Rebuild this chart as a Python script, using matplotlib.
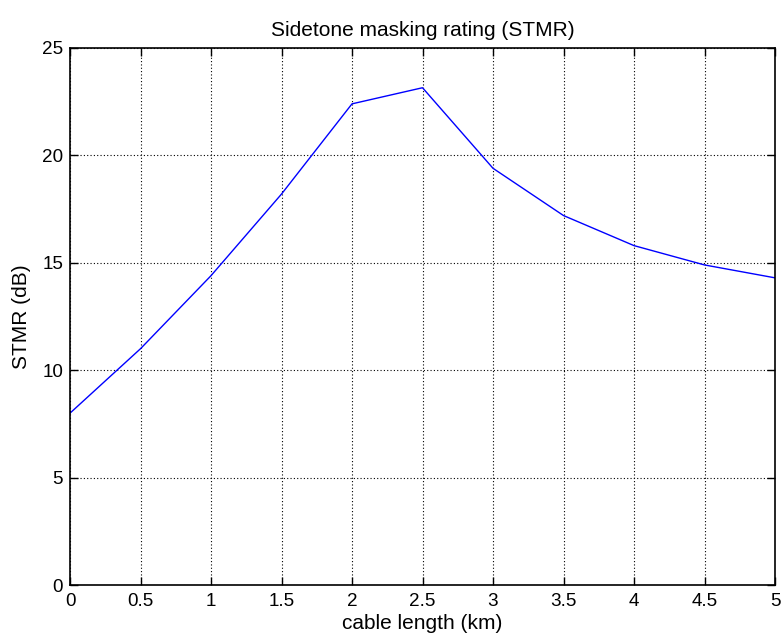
import matplotlib
matplotlib.use("Agg")
import matplotlib.pyplot as plt

# datos
largo_cable = [0, 0.5, 1, 1.5, 2, 2.5, 3, 3.5, 4, 4.5, 5]
stmr = [8.0, 11.0, 14.4, 18.2, 22.4, 23.15, 19.4, 17.2, 15.8, 14.9, 14.3]
xticks = [0, 0.5, 1, 1.5, 2, 2.5, 3, 3.5, 4, 4.5, 5]
yticks = [0, 5, 10, 15, 20, 25]

plt.rcParams['font.family'] = ['Liberation Sans', 'DejaVu Sans']
plt.rcParams['font.size'] = 13.6

fig = plt.figure(figsize=(7.82, 6.41), dpi=100)
ax = fig.add_axes([70/782, 1-585/641, 705/782, 537/641])

ax.plot(largo_cable, stmr, color='#0000ff', linewidth=1.0)

ax.set_xlim(0, 5)
ax.set_ylim(0, 25)
ax.set_xticks(xticks)
ax.set_xticklabels(['0', '0.5', '1', '1.5', '2', '2.5', '3', '3.5', '4', '4.5', '5'])
ax.set_yticks(yticks)

ax.grid(True, color='black', linestyle=(0, (1, 2)), linewidth=0.8)
ax.tick_params(direction='in', length=5.5, width=1.0, top=True, right=True, color='black')
ax.tick_params(axis='x', pad=6)
ax.tick_params(axis='y', pad=5)
for s in ax.spines.values():
    s.set_linewidth(1.2)
    s.set_color('black')

# en matlab titulo y etiquetas van 1.1 veces mas grandes
ax.set_title('Sidetone masking rating (STMR)', fontsize=15, pad=9)
ax.set_xlabel('cable length (km)', fontsize=15, labelpad=2.5)
ax.set_ylabel('STMR (dB)', fontsize=15, labelpad=8)

fig.savefig('out.png', dpi=100)
